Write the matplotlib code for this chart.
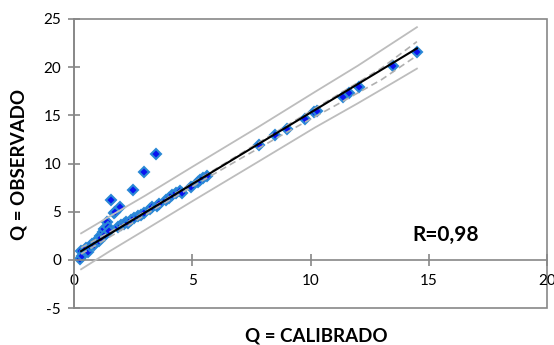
import numpy as np
import matplotlib
matplotlib.use('Agg')
import matplotlib.pyplot as plt

plt.rcParams['font.family'] = ['Lato', 'DejaVu Sans']
plt.rcParams['axes.unicode_minus'] = False

q_cal = [0.25, 0.28, 0.32, 0.45, 0.52, 0.60, 0.68, 0.75, 0.85, 0.92,
         1.00, 1.05, 1.10, 1.15, 1.22, 1.28, 1.32, 1.38, 1.45, 1.50,
         1.56, 1.70, 1.75, 1.87, 1.95, 2.00, 2.10, 2.20, 2.30, 2.40,
         2.48, 2.55, 2.70, 2.82, 2.95, 2.97, 3.20, 3.30, 3.45, 3.50,
         3.60, 3.90, 4.00, 4.13, 4.30, 4.48, 4.55, 4.95, 5.25, 5.33,
         5.45, 5.61, 7.81, 8.50, 8.99, 9.78, 10.16, 10.26, 11.39, 11.64,
         12.06, 13.50, 14.52]
q_obs = [0.10, 0.93, 0.35, 0.90, 1.20, 0.80, 1.45, 1.60, 1.50, 1.80,
         2.20, 1.95, 2.45, 2.30, 2.90, 3.20, 2.60, 3.95, 3.46, 2.95,
         6.16, 4.85, 5.00, 3.46, 5.50, 3.60, 3.70, 3.90, 3.80, 4.10,
         7.20, 4.30, 4.50, 4.70, 4.90, 9.10, 5.30, 5.45, 10.98, 5.60,
         5.80, 6.20, 6.40, 6.75, 6.90, 7.10, 6.90, 7.60, 8.10, 8.30,
         8.50, 8.75, 11.90, 12.98, 13.60, 14.64, 15.30, 15.50, 16.90, 17.37,
         17.93, 20.07, 21.53]

# regression line
fit_x = [0.3, 14.5]
fit_y = [0.9, 21.95]

# prediction band (solid gray)
band_x  = [0.3, 1.5, 3.0, 5.0, 7.8, 10.2, 12.0, 13.5, 14.5]
band_up = [2.75, 4.50, 6.65, 9.65, 13.80, 17.45, 20.15, 22.55, 24.15]
band_lo = [-0.98, 0.88, 3.10, 6.08, 10.20, 13.75, 16.25, 18.40, 19.85]

# confidence band (dashed gray)
conf_x  = [0.3, 2.0, 3.5, 5.0, 7.0, 9.0, 11.0, 13.0, 14.5]
conf_up = [1.25, 3.55, 5.75, 7.95, 10.95, 13.95, 16.90, 19.90, 22.65]
conf_lo = [0.60, 3.10, 5.40, 7.60, 10.45, 13.25, 15.95, 18.70, 21.20]

xticks = [0, 5, 10, 15, 20]
yticks = [-5, 0, 5, 10, 15, 20, 25]

fig = plt.figure(figsize=(5.54, 3.45), dpi=100)
ax = fig.add_axes([74/554, 1-308/345, (547-74)/554, (308-19)/345])
ax.set_xlim(0, 20)
ax.set_ylim(-5, 25)

gray = '#878787'
ax.patch.set_edgecolor(gray)
ax.patch.set_linewidth(1.2)
for side in ['top', 'right']:
  ax.spines[side].set_visible(False)
ax.spines['left'].set_color(gray)
ax.spines['left'].set_linewidth(1.2)
ax.spines['bottom'].set_position(('data', 0))
ax.spines['bottom'].set_color(gray)
ax.spines['bottom'].set_linewidth(1.2)

ax.set_xticks(xticks)
ax.set_yticks(yticks)
ax.tick_params(axis='both', direction='inout', length=8.6, width=1.2,
               color=gray, labelsize=11, labelcolor='black')
ax.tick_params(axis='x', pad=6)
ax.tick_params(axis='y', pad=5)

ax.plot(q_cal, q_obs, linestyle='', marker='D', markersize=5.4,
        markerfacecolor='#0a14f0', markeredgecolor='#2a88d6',
        markeredgewidth=1.5, zorder=2, clip_on=False)
ax.plot(band_x, band_up, color='#bdbdbd', lw=1.3, zorder=3)
ax.plot(band_x, band_lo, color='#bdbdbd', lw=1.3, zorder=3)
ax.plot(conf_x, conf_up, color='#b0b0b0', lw=1.2, ls=(0, (4, 2.5)), zorder=3)
ax.plot(conf_x, conf_lo, color='#b0b0b0', lw=1.2, ls=(0, (4, 2.5)), zorder=3)
ax.plot(fit_x, fit_y, color='black', lw=1.5, zorder=4)

ax.text(15.7, 2.6, 'R=0,98', fontsize=15, fontweight='bold',
        ha='center', va='center')

fig.text(316/554, 1-336/345, 'Q = CALIBRADO', fontsize=13.5,
         fontweight='bold', ha='center', va='center')
fig.text(19/554, 1-164/345, 'Q = OBSERVADO', fontsize=13.5,
         fontweight='bold', ha='center', va='center', rotation=90)

fig.savefig('out.png', dpi=100)
